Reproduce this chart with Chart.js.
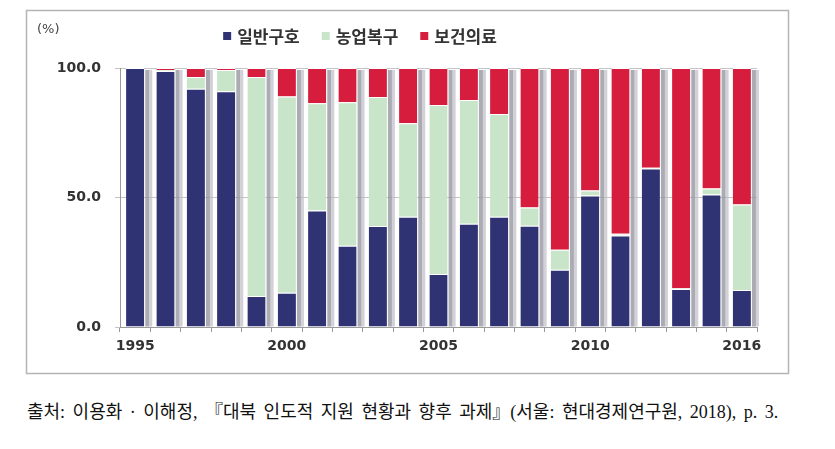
<!DOCTYPE html>
<html>
<head>
<meta charset="utf-8">
<script src="https://cdn.jsdelivr.net/npm/chart.js@4.4.1/dist/chart.umd.min.js"></script>
<style>
  body { margin: 0; background: #fff; }
  #wrap { position: relative; width: 835px; height: 449px; }
  #chart { position: absolute; left: 0; top: 0; }
  #source {
    position: absolute; left: 27px; top: 397px; white-space: nowrap;
    font-family: "Liberation Serif", "Noto Sans CJK KR", serif;
    font-size: 18px; word-spacing: 3px; color: #111;
  }
</style>
</head>
<body>
<div id="wrap">
  <canvas id="chart" width="835" height="380"></canvas>
  <div id="source">출처: 이용화 · 이해정, 『대북 인도적 지원 현황과 향후 과제』(서울: 현대경제연구원, 2018), p. 3.</div>
</div>
<script>
// 연도 (2015년 없음, 마지막 막대는 2016)
var years = ['1995', '1996', '1997', '1998', '1999', '2000', '2001', '2002', '2003', '2004',
             '2005', '2006', '2007', '2008', '2009', '2010', '2011', '2012', '2013', '2014', '2016'];
var shownYears = ['1995', '2000', '2005', '2010', '2016'];

var seriesNames = ['일반구호', '농업복구', '보건의료'];
var generalRelief = [100, 98.8, 92, 91, 12, 13.2, 45, 31.4, 39, 42.6, 20.5, 39.9, 42.6, 39.1, 22.1, 50.8, 35.3, 61.2, 14.7, 51.2, 14.3];
var agriRecovery  = [0, 0.4, 4.5, 8.2, 84.5, 75.8, 41.4, 55.4, 49.8, 36.1, 65.2, 47.7, 39.6, 7, 7.7, 1.9, 0.7, 0.3, 0.3, 2.3, 33];
var healthCare    = [0, 0.8, 3.5, 0.8, 3.5, 11, 13.6, 13.2, 11.2, 21.3, 14.3, 12.4, 17.8, 53.9, 70.2, 47.3, 64, 38.5, 85, 46.5, 52.7];
var yTicks = [0, 50, 100];

var colors = ['#2f3373', '#c9e5c9', '#d61d3d'];

// 막대 오른쪽 회색 그림자 (막대 요소 위치 기준)
var shadowPlugin = {
    id: 'barShadow',
    afterDatasetsDraw: function (chart) {
        var ctx = chart.ctx;
        var n = chart.data.labels.length;
        ctx.save();
        for (var j = 0; j < n; j++) {
            var p = chart.getDatasetMeta(0).data[j].getProps(['x', 'y', 'base', 'width'], true);
            var top = p.y;
            for (var i = 1; i < chart.data.datasets.length; i++) {
                var q = chart.getDatasetMeta(i).data[j].getProps(['y'], true);
                if (q.y < top) top = q.y;
            }
            var x0 = p.x + p.width / 2 + 1;
            ctx.fillStyle = 'rgba(150, 150, 160, 0.8)';
            ctx.fillRect(x0, top + 2, 4, p.base - top - 2);
            ctx.fillStyle = 'rgba(190, 190, 198, 0.7)';
            ctx.fillRect(x0 + 4, top + 2, 3, p.base - top - 2);
        }
        ctx.restore();
    }
};

// 테두리, (%) 단위, 범례
var decoPlugin = {
    id: 'deco',
    afterDraw: function (chart) {
        var ctx = chart.ctx;
        ctx.save();
        ctx.strokeStyle = '#b4b4b4';
        ctx.lineWidth = 1.5;
        ctx.strokeRect(26.5, 10.5, 762, 363);

        ctx.fillStyle = '#444';
        ctx.font = '13px "DejaVu Sans"';
        ctx.textBaseline = 'middle';
        ctx.fillText('(%)', 37, 30);

        ctx.font = 'bold 17px "Noto Sans CJK KR"';
        var box = 8, gapBox = 6, gapItem = 22;
        var widths = seriesNames.map(function (n) { return ctx.measureText(n).width; });
        var total = 0;
        widths.forEach(function (w, i) { total += box + gapBox + w + (i < widths.length - 1 ? gapItem : 0); });
        var x = 360 - total / 2, y = 36;
        seriesNames.forEach(function (n, i) {
            ctx.fillStyle = colors[i];
            ctx.fillRect(x, y - box / 2, box, box);
            x += box + gapBox;
            ctx.fillStyle = '#333';
            ctx.fillText(n, x, y + 1);
            x += widths[i] + gapItem;
        });
        ctx.restore();
    }
};

var datasets = [generalRelief, agriRecovery, healthCare].map(function (d, i) {
    return {
        label: seriesNames[i],
        data: d,
        backgroundColor: colors[i],
        borderColor: '#ffffff',
        borderWidth: { top: 1, left: 0, right: 0, bottom: 0 },
        borderSkipped: false,
        barPercentage: 0.6,
        categoryPercentage: 1.0
    };
});

new Chart(document.getElementById('chart').getContext('2d'), {
    type: 'bar',
    data: { labels: years, datasets: datasets },
    options: {
        responsive: false,
        animation: false,
        layout: { padding: { top: 68, left: 40, right: 78, bottom: 0 } },
        plugins: {
            legend: { display: false },
            tooltip: { enabled: false }
        },
        scales: {
            x: {
                stacked: true,
                offset: true,
                afterFit: function (s) { s.height = 53; },
                grid: { offset: true, drawOnChartArea: false, tickLength: 5, color: '#9a9a9a' },
                border: { color: '#9a9a9a' },
                ticks: {
                    autoSkip: false, maxRotation: 0, padding: 6,
                    color: '#333',
                    font: { family: 'DejaVu Sans', weight: 'bold', size: 14 },
                    callback: function (v, i) { return shownYears.indexOf(years[i]) >= 0 ? years[i] : ''; }
                }
            },
            y: {
                stacked: true,
                min: 0, max: 100,
                afterFit: function (s) { s.width = 80; },
                afterBuildTicks: function (s) { s.ticks = yTicks.map(function (v) { return { value: v }; }); },
                grid: { color: '#c4c4c4', tickLength: 5 },
                border: { color: '#9a9a9a' },
                ticks: {
                    padding: 14,
                    color: '#333',
                    font: { family: 'DejaVu Sans', weight: 'bold', size: 14 },
                    callback: function (v) { return Number(v).toFixed(1); }
                }
            }
        }
    },
    plugins: [shadowPlugin, decoPlugin]
});
</script>
</body>
</html>
